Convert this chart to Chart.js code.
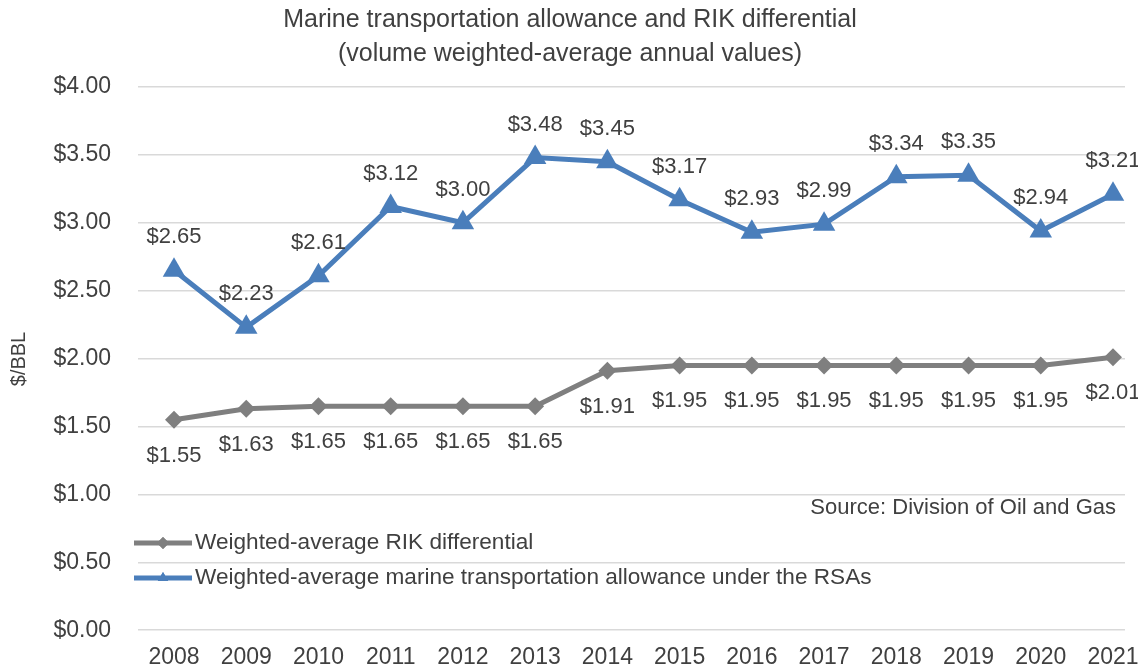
<!DOCTYPE html>
<html>
<head>
<meta charset="utf-8">
<script src="https://cdn.jsdelivr.net/npm/chart.js@4/dist/chart.umd.min.js"></script>
<style>
  html, body { margin: 0; padding: 0; background: #fff; overflow: hidden; }
  #wrap { position: absolute; left: 0; top: 0; width: 1138px; height: 671px; }
</style>
</head>
<body>
<div id="wrap"><canvas id="chart"></canvas></div>
<script>
'use strict';

// Data
const YEARS = ['2008', '2009', '2010', '2011', '2012', '2013', '2014',
               '2015', '2016', '2017', '2018', '2019', '2020', '2021'];
const RIK_DIFF = [1.55, 1.63, 1.65, 1.65, 1.65, 1.65, 1.91,
                  1.95, 1.95, 1.95, 1.95, 1.95, 1.95, 2.01];
const MARINE_ALLOW = [2.65, 2.23, 2.61, 3.12, 3.00, 3.48, 3.45,
                      3.17, 2.93, 2.99, 3.34, 3.35, 2.94, 3.21];
const TITLE = ['Marine transportation allowance and RIK differential',
               '(volume weighted-average annual values)'];
const SOURCE = 'Source: Division of Oil and Gas';

const FONT = "'Liberation Sans', Arial, sans-serif";
const TEXT = '#404040';
const GRAY = '#7f7f7f';
const BLUE = '#4a7ebb';

// where the first and last year sit in the original (its plot runs past the image edge)
const FIRST_X = 174;
const LAST_X = 1113;

const money = v => '$' + Number(v).toFixed(2);
const toPoints = arr => arr.map((v, i) => ({ x: i, y: v }));

// ---------------------------------------------------------------------------
// Plugin: title, value labels, inline legend, source note, axis title
// ---------------------------------------------------------------------------
const decorations = {
  id: 'decorations',
  afterDatasetsDraw(chart) {
    const ctx = chart.ctx;
    ctx.save();
    ctx.fillStyle = TEXT;
    ctx.textAlign = 'center';
    ctx.textBaseline = 'middle';

    // title
    ctx.font = `25px ${FONT}`;
    ctx.fillText(TITLE[0], 570, 20);
    ctx.fillText(TITLE[1], 570, 54);

    // value labels
    ctx.font = `22px ${FONT}`;
    chart.data.datasets.forEach((ds, i) => {
      const meta = chart.getDatasetMeta(i);
      const dy = ds.labelAbove ? -33 : 36;
      meta.data.forEach((pt, j) => {
        ctx.fillText(money(ds.data[j].y), pt.x, pt.y + dy);
      });
    });

    // source
    ctx.textAlign = 'right';
    ctx.font = `22px ${FONT}`;
    ctx.fillText(SOURCE, 1116, 508);

    // legend (inside plot, lower left)
    const items = [
      { ds: chart.data.datasets[0], y: 543 },
      { ds: chart.data.datasets[1], y: 578 },
    ];
    items.forEach(({ ds, y }) => {
      ctx.strokeStyle = ds.borderColor;
      ctx.lineWidth = 5;
      ctx.beginPath();
      ctx.moveTo(134, y);
      ctx.lineTo(192, y);
      ctx.stroke();
      ctx.fillStyle = ds.borderColor;
      Chart.helpers.drawPoint(ctx, {
        pointStyle: ds.pointStyle, radius: 6, borderWidth: 0,
      }, 163, y);
      ctx.fill();
      ctx.fillStyle = TEXT;
      ctx.textAlign = 'left';
      ctx.font = `22.6px ${FONT}`;
      ctx.fillText(ds.label, 195, y);
    });

    // y axis title
    ctx.translate(19, 359);
    ctx.rotate(-Math.PI / 2);
    ctx.textAlign = 'center';
    ctx.font = `20px ${FONT}`;
    ctx.fillText('$/BBL', 0, 0);
    ctx.restore();
  }
};

const chart = new Chart(document.getElementById('chart'), {
  type: 'line',
  data: {
    datasets: [
      {
        label: 'Weighted-average RIK differential',
        data: toPoints(RIK_DIFF),
        borderColor: GRAY,
        backgroundColor: GRAY,
        borderWidth: 5,
        pointStyle: 'rectRot',
        pointRadius: 9,
        pointBorderWidth: 0,
        tension: 0,
        labelAbove: false,
      },
      {
        label: 'Weighted-average marine transportation allowance under the RSAs',
        data: toPoints(MARINE_ALLOW),
        borderColor: BLUE,
        backgroundColor: BLUE,
        borderWidth: 5,
        pointStyle: 'triangle',
        pointRadius: 13,
        pointBorderWidth: 0,
        tension: 0,
        labelAbove: true,
      },
    ],
  },
  options: {
    responsive: true,
    maintainAspectRatio: false,
    devicePixelRatio: 1,
    animation: false,
    layout: { padding: { top: 87, left: 0, right: 0, bottom: 0 } },
    plugins: {
      legend: { display: false },
      title: { display: false },
      tooltip: { enabled: false },
    },
    scales: {
      x: {
        type: 'linear',
        min: -0.5,
        max: 13.35,
        grid: { display: false },
        border: { display: false },
        afterBuildTicks: s => { s.ticks = YEARS.map((_, i) => ({ value: i })); },
        ticks: {
          color: TEXT,
          font: { family: FONT, size: 23 },
          padding: 6,
          maxRotation: 0,
          autoSkip: false,
          callback: v => YEARS[v],
        },
        afterFit: s => {
          s.height = 40;
          s.paddingLeft = 0;
          s.paddingRight = 0;
        },
      },
      y: {
        min: 0,
        max: 4,
        ticks: {
          stepSize: 0.5,
          color: TEXT,
          font: { family: FONT, size: 23 },
          padding: 27,
          callback: v => money(v),
        },
        grid: { color: '#d9d9d9', lineWidth: 1.5, drawTicks: false },
        border: { display: false },
        afterFit: s => { s.width = 138; },
      },
    },
  },
  plugins: [decorations],
});

// fit the x range to whatever plot width the layout gave us,
// so 2008 and 2021 land where they do in the original
for (let pass = 0; pass < 3; pass++) {
  const { left, right } = chart.chartArea;
  const n = YEARS.length - 1;
  const span = n * (right - left) / (LAST_X - FIRST_X);
  const min = -(FIRST_X - left) * span / (right - left);
  chart.options.scales.x.min = min;
  chart.options.scales.x.max = min + span;
  chart.update('none');
}
</script>
</body>
</html>
